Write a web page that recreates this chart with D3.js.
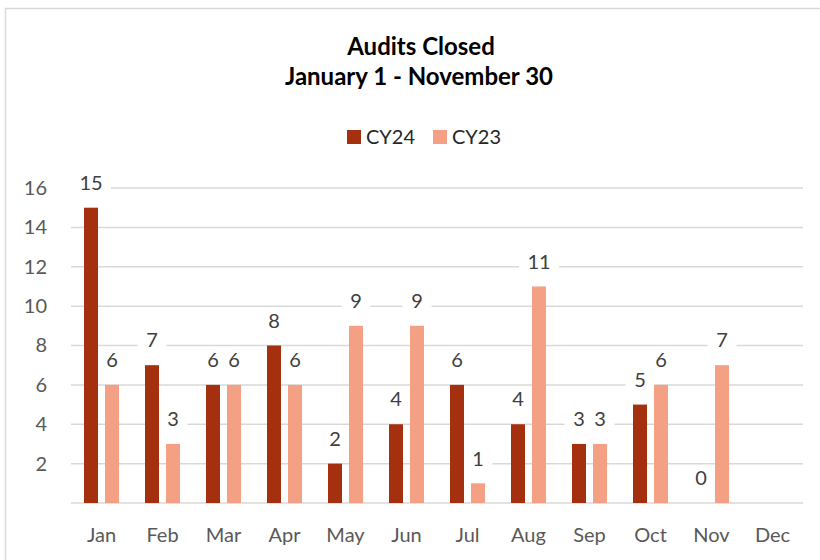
<!DOCTYPE html>
<html>
<head>
<meta charset="utf-8">
<script src="https://cdn.jsdelivr.net/npm/d3@7"></script>
<style>
  html, body { margin: 0; padding: 0; background: #fff; }
  svg { display: block; }
  text { font-family: Lato, "Open Sans", sans-serif; }
</style>
</head>
<body>
<svg id="chart" width="820" height="560"></svg>
<script>
const months = ["Jan","Feb","Mar","Apr","May","Jun","Jul","Aug","Sep","Oct","Nov","Dec"];
const seriesNames = ["CY24","CY23"];
const cy24 = [15, 7, 6, 8, 2, 4, 6, 4, 3, 5, 0, null];
const cy23 = [6, 3, 6, 6, 9, 9, 1, 11, 3, 6, 7, null];
const yTicks = [2, 4, 6, 8, 10, 12, 14, 16];
const titleLines = ["Audits Closed", "January 1 - November 30"];
const colors = { CY24: "#A5300F", CY23: "#F4A084" };

(function () {
const svg = d3.select("#chart");

// outer frame
svg.append("rect").attr("x", 5.5).attr("y", 8.5).attr("width", 830).attr("height", 570)
  .attr("fill", "none").attr("stroke", "#D9D9D9").attr("stroke-width", 1.5);

const plotLeft = 71, plotRight = 803, plotTop = 188, plotBottom = 503;

const x0 = d3.scaleBand().domain(months).range([plotLeft, plotRight]).paddingInner(0).paddingOuter(0);
const x1 = d3.scaleBand().domain(seriesNames).range([13, 48]).paddingInner(1/3).paddingOuter(0);
const y = d3.scaleLinear().domain([0, 16]).range([plotBottom, plotTop]);

// gridlines
const grid = svg.append("g");
grid.selectAll("line").data([0].concat(yTicks)).join("line")
  .attr("x1", plotLeft).attr("x2", plotRight)
  .attr("y1", d => y(d)).attr("y2", d => y(d))
  .attr("stroke", "#D9D9D9").attr("stroke-width", 1.5);

// y axis labels
const yAxis = d3.axisLeft(y).tickValues(yTicks).tickSize(0).tickPadding(0);
const gy = svg.append("g").attr("transform", `translate(${47},0)`).call(yAxis);
gy.select(".domain").remove();
gy.selectAll("text").attr("fill", "#595959").style("font-size", "20px").style("font-family", "Lato, sans-serif");

// x axis labels
const xAxis = d3.axisBottom(x0).tickSize(0).tickPadding(0);
const gx = svg.append("g").attr("transform", `translate(0,${528})`).call(xAxis);
gx.select(".domain").remove();
gx.selectAll("text").attr("fill", "#595959").style("font-size", "20px").style("font-family", "Lato, sans-serif");

// data
const rows = months.map((m, i) => ({ month: m, CY24: cy24[i], CY23: cy23[i] }));
const flat = [];
rows.forEach(r => seriesNames.forEach(s => { if (r[s] !== null) flat.push({ month: r.month, series: s, value: r[s] }); }));

const cx = d => x0(d.month) + x1(d.series) + x1.bandwidth() / 2;
const boxW = d => String(d.value).length * 11 + 18;

// white label boxes (break the gridlines)
svg.append("g").selectAll("rect").data(flat).join("rect")
  .attr("x", d => cx(d) - boxW(d) / 2)
  .attr("width", boxW)
  .attr("y", d => y(d.value) - 38).attr("height", 26)
  .attr("fill", "#fff");

// bars
svg.append("g").selectAll("rect").data(flat).join("rect")
  .attr("x", d => x0(d.month) + x1(d.series))
  .attr("width", x1.bandwidth())
  .attr("y", d => y(d.value))
  .attr("height", d => y(0) - y(d.value))
  .attr("fill", d => colors[d.series]);

// label text
svg.append("g").selectAll("text").data(flat).join("text")
  .attr("x", cx).attr("y", d => y(d.value) - 25)
  .attr("text-anchor", "middle").attr("dy", "0.36em")
  .attr("fill", "#404040").style("font-size", "20px")
  .text(d => d.value);

// title
svg.append("text").attr("x", 421).attr("y", 55).attr("text-anchor", "middle")
  .style("font-size", "24px").style("font-weight", "bold").attr("fill", "#000").text(titleLines[0]);
svg.append("text").attr("x", 419).attr("y", 85).attr("text-anchor", "middle")
  .style("font-size", "24px").style("font-weight", "bold").attr("fill", "#000").text(titleLines[1]);

// legend
const legendPos = [347, 433];
const leg = svg.append("g").selectAll("g").data(seriesNames).join("g")
  .attr("transform", (d, i) => `translate(${legendPos[i]},130)`);
leg.append("rect").attr("width", 14).attr("height", 14).attr("fill", d => colors[d]);
leg.append("text").attr("x", 19).attr("y", 14).attr("fill", "#262626").style("font-size", "20px").text(d => d);
})();
</script>
</body>
</html>
